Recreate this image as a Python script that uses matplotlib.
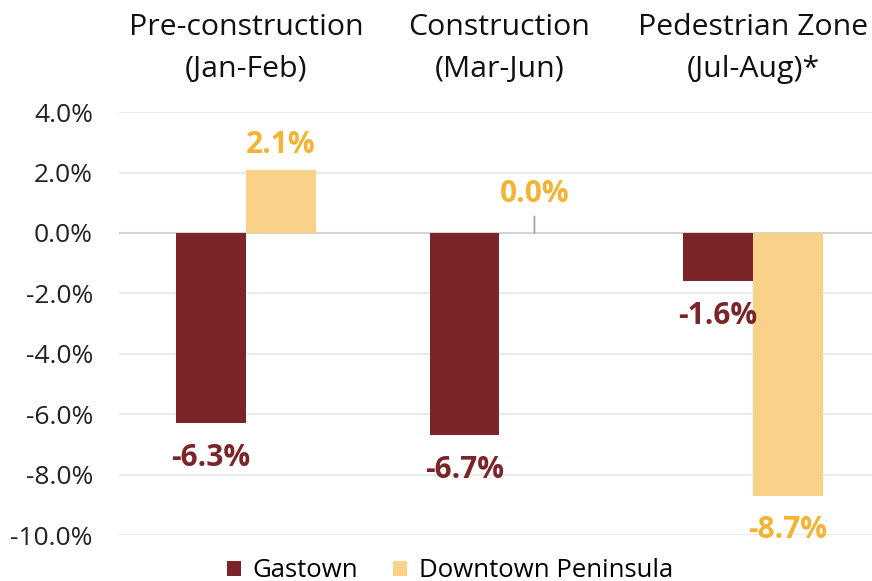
import matplotlib
matplotlib.use("Agg")
import matplotlib.pyplot as plt
import numpy as np
from matplotlib.ticker import FuncFormatter

plt.rcParams['font.family'] = ['Open Sans', 'DejaVu Sans']

categories = ["Pre-construction\n(Jan-Feb)", "Construction\n(Mar-Jun)", "Pedestrian Zone\n(Jul-Aug)*"]
gastown = [-6.3, -6.7, -1.6]
downtown = [2.1, 0.0, -8.7]
series_names = ["Gastown", "Downtown Peninsula"]

c_gas = "#7B2528"
c_dt = "#FAD188"
c_gas_lbl = "#7B2528"
c_dt_lbl = "#F5B335"

fig = plt.figure(figsize=(8.72, 5.81), dpi=100)
ax = fig.add_axes([0.1368, 0.079, 0.872, 0.728])

x = np.arange(len(categories))
w = 0.276
b1 = ax.bar(x - w/2, gastown, w, color=c_gas, label=series_names[0], zorder=3)
b2 = ax.bar(x + w/2, downtown, w, color=c_dt, label=series_names[1], zorder=3)

ax.set_xlim(-0.5, 2.5)
ax.set_ylim(-10, 4)
ax.set_yticks(np.arange(-10, 4.01, 2))
ax.yaxis.set_major_formatter(FuncFormatter(lambda v, p: f"{v:.1f}%"))
ax.tick_params(axis='y', length=0, labelsize=19, pad=19, colors="#222222")
ax.grid(axis='y', color="#E6E6E6", linewidth=1.2, zorder=0)
ax.axhline(0, color="#D4D4D4", linewidth=1.5, zorder=2)
for s in ax.spines.values():
    s.set_visible(False)

ax.xaxis.tick_top()
ax.set_xticks(x)
ax.set_xticklabels(categories, fontsize=21.8, color="#111111", linespacing=1.6)
ax.tick_params(axis='x', length=0, pad=20)

def label(bar, val, color):
    cx = bar.get_x() + bar.get_width()/2
    txt = f"{val:.1f}%"
    kw = dict(ha="center", fontsize=21.5, fontweight="bold", color=color,
              textcoords="offset points")
    if val > 0:
        ax.annotate(txt, (cx, val), xytext=(0, 7), va="bottom", **kw)
    elif val == 0:
        ax.annotate(txt, (cx, val), xytext=(0, 17), va="bottom",
                    arrowprops=dict(arrowstyle="-", color="#A0A0A0", lw=1.2, shrinkA=3, shrinkB=0),
                    **kw)
    else:
        ax.annotate(txt, (cx, val), xytext=(0, -14), va="top", **kw)

for bar, v in zip(b1, gastown):
    label(bar, v, c_gas_lbl)
for bar, v in zip(b2, downtown):
    label(bar, v, c_dt_lbl)

leg = fig.legend(handles=[b1, b2], labels=series_names, loc="lower center",
                 bbox_to_anchor=(0.516, -0.044), ncol=2, frameon=False, fontsize=18.5,
                 handlelength=0.55, handleheight=0.55, handletextpad=0.45, columnspacing=1.35)

fig.savefig("out.png", dpi=100)
